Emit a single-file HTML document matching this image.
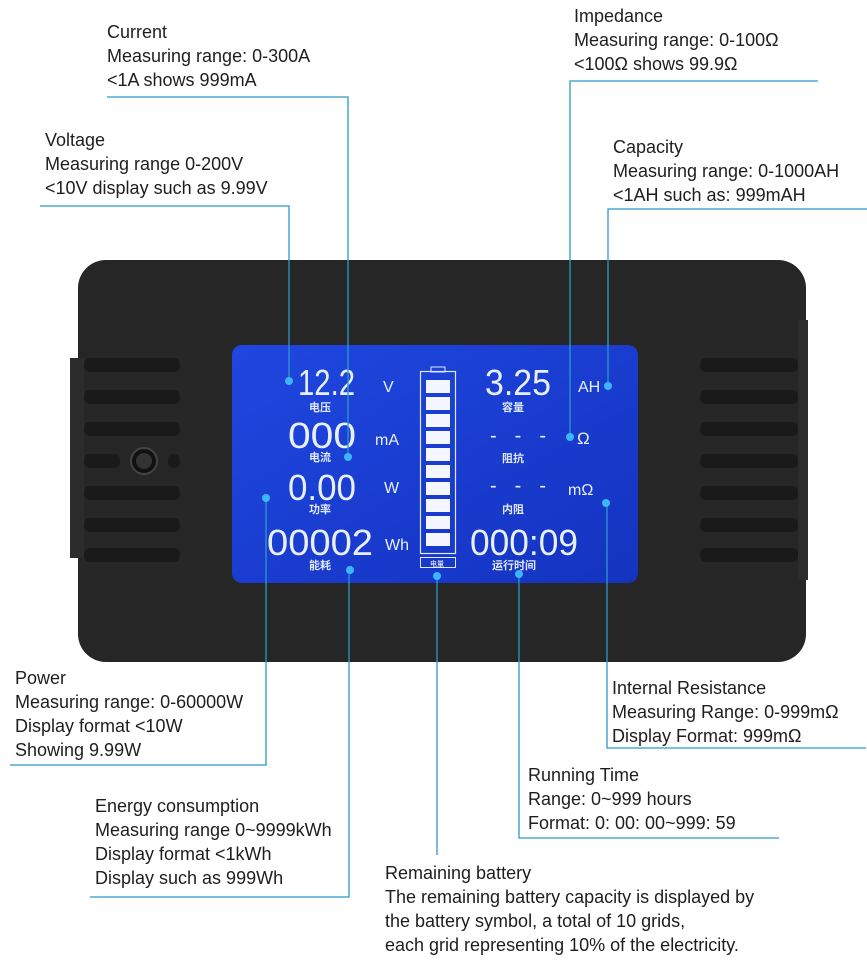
<!DOCTYPE html>
<html><head><meta charset="utf-8"><style>
html,body{margin:0;padding:0;background:#fff;}
svg{display:block;}
.t{font-family:"Liberation Sans",sans-serif;font-size:18px;fill:#1e1e1e;}
.l{stroke:#2a9ac8;stroke-width:1.3;fill:none;}
.d{fill:#3cb6ff;}
.lcd{font-family:"Liberation Sans",sans-serif;fill:#e8f0ff;}
.cn{font-family:"Liberation Sans","Noto Sans CJK SC",sans-serif;font-size:11px;fill:#dfe8ff;font-weight:bold;}
</style></head><body>
<svg width="867" height="964" viewBox="0 0 867 964" xmlns="http://www.w3.org/2000/svg">
<defs>
<linearGradient id="g" x1="0" y1="0" x2="1" y2="1">
<stop offset="0" stop-color="#1f47e0"/><stop offset="1" stop-color="#1433c0"/>
</linearGradient>
</defs>
<rect x="78" y="260" width="728" height="402" rx="28" fill="#262626"/>
<rect x="70" y="358" width="14" height="200" fill="#2c2c2c"/>
<rect x="798" y="320" width="10" height="260" fill="#2c2c2c"/>
<g fill="#1a1a1a">
<rect x="84" y="358" width="96" height="14" rx="6"/>
<rect x="84" y="390" width="96" height="14" rx="6"/>
<rect x="84" y="422" width="96" height="14" rx="6"/>
<rect x="84" y="454" width="36" height="14" rx="6"/>
<rect x="168" y="454" width="12" height="14" rx="6"/>
<rect x="84" y="486" width="96" height="14" rx="6"/>
<rect x="84" y="518" width="96" height="14" rx="6"/>
<rect x="84" y="548" width="96" height="14" rx="6"/>
<rect x="700" y="358" width="98" height="14" rx="6"/>
<rect x="700" y="390" width="98" height="14" rx="6"/>
<rect x="700" y="422" width="98" height="14" rx="6"/>
<rect x="700" y="454" width="98" height="14" rx="6"/>
<rect x="700" y="486" width="98" height="14" rx="6"/>
<rect x="700" y="518" width="98" height="14" rx="6"/>
<rect x="700" y="548" width="98" height="14" rx="6"/>
</g>
<circle cx="144" cy="461" r="13" fill="#111" stroke="#444" stroke-width="2"/>
<circle cx="144" cy="461" r="8" fill="#333"/>
<rect x="232" y="345" width="406" height="238" rx="10" fill="url(#g)"/>
<g class="lcd">
<text x="298" y="395" font-size="36" textLength="57" lengthAdjust="spacingAndGlyphs">12.2</text>
<text x="383" y="392" font-size="16">V</text>
<text x="288" y="448" font-size="36" textLength="68" lengthAdjust="spacingAndGlyphs">000</text>
<text x="375" y="445" font-size="16">mA</text>
<text x="288" y="500" font-size="36" textLength="68" lengthAdjust="spacingAndGlyphs">0.00</text>
<text x="384" y="493" font-size="16">W</text>
<text x="267" y="555" font-size="36" textLength="106" lengthAdjust="spacingAndGlyphs">00002</text>
<text x="385" y="550" font-size="16">Wh</text>
<text x="485" y="395" font-size="36" textLength="66" lengthAdjust="spacingAndGlyphs">3.25</text>
<text x="578" y="392" font-size="16">AH</text>
<text x="490" y="442" font-size="20" textLength="56" lengthAdjust="spacing">- - -</text>
<text x="577" y="444" font-size="17">Ω</text>
<text x="490" y="492" font-size="20" textLength="56" lengthAdjust="spacing">- - -</text>
<text x="568" y="495" font-size="16">mΩ</text>
<text x="470" y="555" font-size="36" textLength="108" lengthAdjust="spacingAndGlyphs">000:09</text>
</g>
<g class="cn">
<text x="309" y="411">电压</text><text x="309" y="461">电流</text><text x="309" y="513">功率</text><text x="309" y="569">能耗</text>
<text x="502" y="411">容量</text><text x="502" y="462">阻抗</text><text x="502" y="513">内阻</text><text x="492" y="569">运行时间</text>
</g>
<rect x="420.5" y="371.5" width="35" height="182" fill="none" stroke="#dfe8ff" stroke-width="1.2"/>
<rect x="431" y="367" width="14" height="5" fill="none" stroke="#dfe8ff"/>
<g fill="#f4f7ff">
<rect x="426" y="380" width="24" height="13"/><rect x="426" y="397" width="24" height="13"/>
<rect x="426" y="414" width="24" height="13"/><rect x="426" y="431" width="24" height="13"/>
<rect x="426" y="448" width="24" height="13"/><rect x="426" y="465" width="24" height="13"/>
<rect x="426" y="482" width="24" height="13"/><rect x="426" y="499" width="24" height="13"/>
<rect x="426" y="516" width="24" height="13"/><rect x="426" y="533" width="24" height="13"/>
</g>
<rect x="420.5" y="557.5" width="35" height="10" fill="none" stroke="#dfe8ff"/>
<text x="430" y="566" style="font-family:'Noto Sans CJK SC',sans-serif;font-size:7px;fill:#fff">电量</text>
<path class="l" d="M107 97H348V457"/>
<path class="l" d="M40 206H289V381"/>
<path class="l" d="M818 81H570V437"/>
<path class="l" d="M867 209H608V386"/>
<path class="l" d="M10 765H266V498"/>
<path class="l" d="M90 897H349V570"/>
<path class="l" d="M437 576V855"/>
<path class="l" d="M779 838H519V574"/>
<path class="l" d="M866 748H607V503"/>
<g class="d">
<circle cx="348" cy="457" r="4"/><circle cx="289" cy="381" r="4"/><circle cx="570" cy="437" r="4"/>
<circle cx="608" cy="386" r="4"/><circle cx="266" cy="498" r="4"/><circle cx="350" cy="570" r="4"/>
<circle cx="437" cy="576" r="4"/><circle cx="519" cy="574" r="4"/><circle cx="606" cy="503" r="4"/>
</g>
<g class="t">
<text x="107" y="38">Current</text><text x="107" y="62">Measuring range: 0-300A</text><text x="107" y="86">&lt;1A shows 999mA</text>
<text x="45" y="146">Voltage</text><text x="45" y="170">Measuring range 0-200V</text><text x="45" y="194">&lt;10V display such as 9.99V</text>
<text x="574" y="22">Impedance</text><text x="574" y="46">Measuring range: 0-100Ω</text><text x="574" y="70">&lt;100Ω shows 99.9Ω</text>
<text x="613" y="153">Capacity</text><text x="613" y="177">Measuring range: 0-1000AH</text><text x="613" y="201">&lt;1AH such as: 999mAH</text>
<text x="15" y="684">Power</text><text x="15" y="708">Measuring range: 0-60000W</text><text x="15" y="732">Display format &lt;10W</text><text x="15" y="756">Showing 9.99W</text>
<text x="95" y="812">Energy consumption</text><text x="95" y="836">Measuring range 0~9999kWh</text><text x="95" y="860">Display format &lt;1kWh</text><text x="95" y="884">Display such as 999Wh</text>
<text x="385" y="879">Remaining battery</text><text x="385" y="903">The remaining battery capacity is displayed by</text><text x="385" y="927">the battery symbol, a total of 10 grids,</text><text x="385" y="951">each grid representing 10% of the electricity.</text>
<text x="528" y="781">Running Time</text><text x="528" y="805">Range: 0~999 hours</text><text x="528" y="829">Format: 0: 00: 00~999: 59</text>
<text x="612" y="694">Internal Resistance</text><text x="612" y="718">Measuring Range: 0-999mΩ</text><text x="612" y="742">Display Format: 999mΩ</text>
</g>
</svg>
</body></html>
